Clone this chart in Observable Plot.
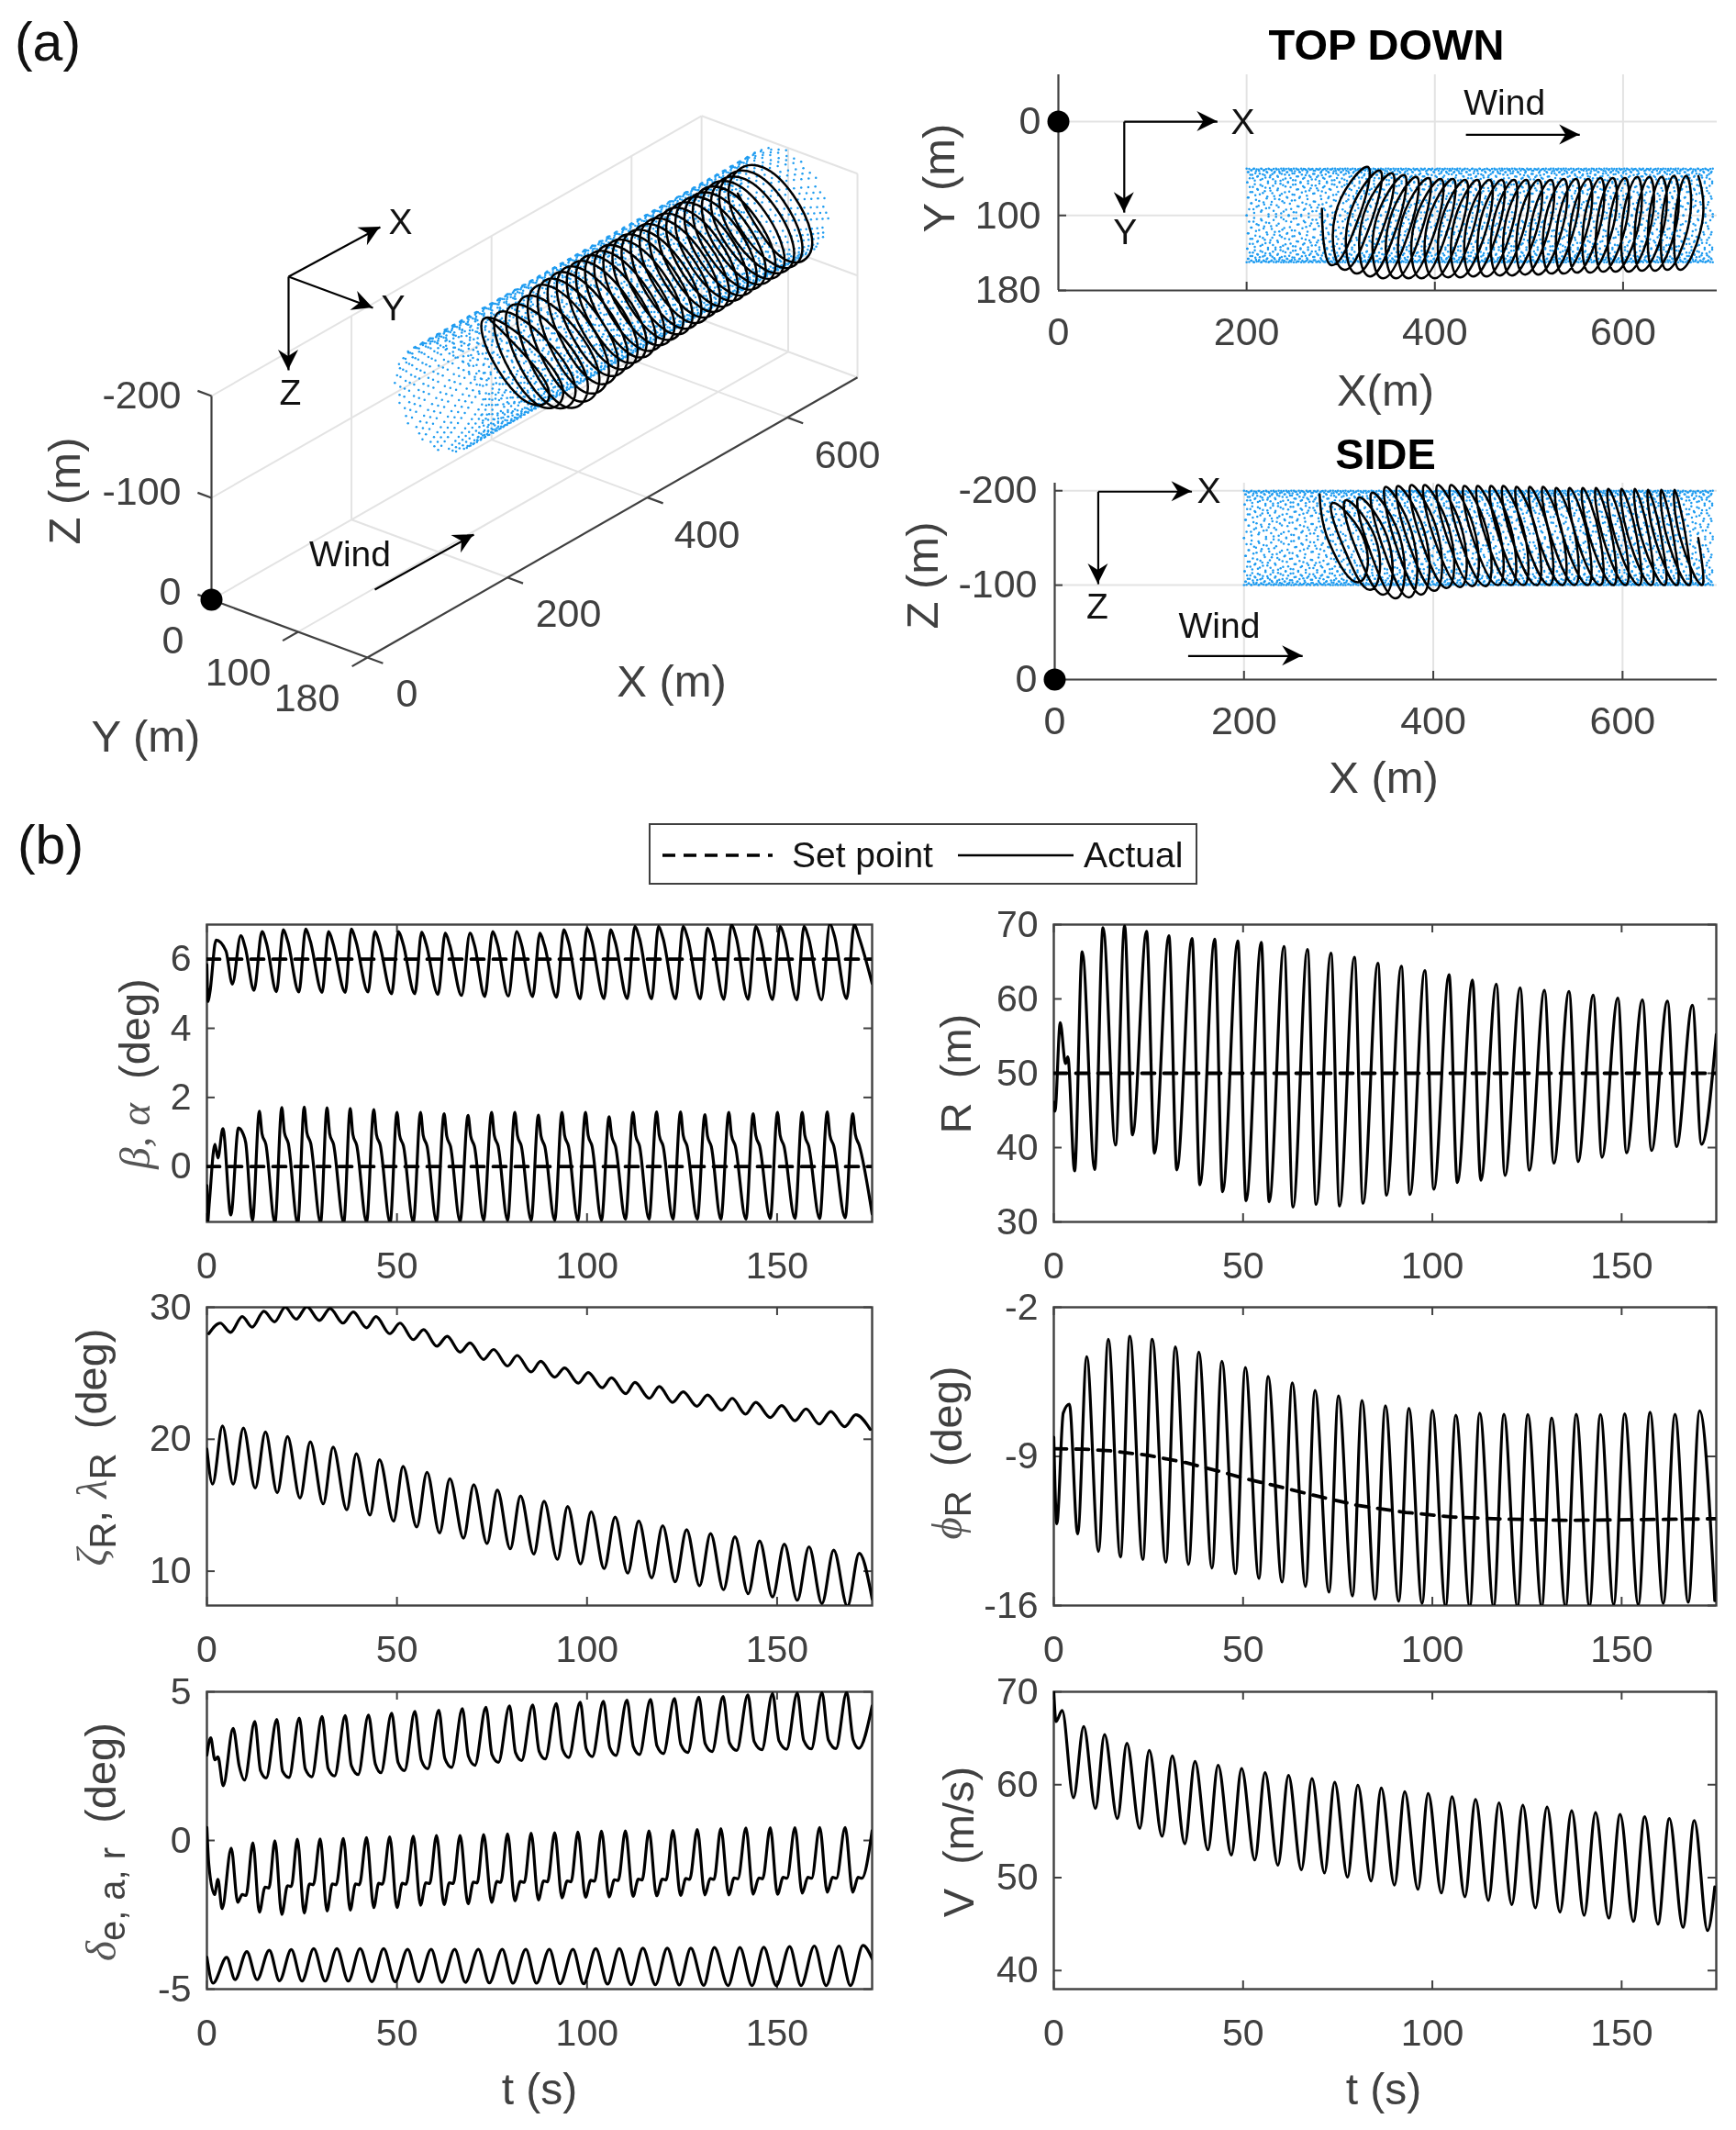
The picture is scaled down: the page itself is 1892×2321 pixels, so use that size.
<!DOCTYPE html>
<html><head><meta charset="utf-8">
<script src="https://cdn.jsdelivr.net/npm/d3@7"></script>
<script src="https://cdn.jsdelivr.net/npm/@observablehq/plot@0.6"></script>
<style>
html,body{margin:0;padding:0;background:#fff}
#page{position:relative;width:1892px;height:2321px;overflow:hidden;font-family:"Liberation Sans",Arial,sans-serif;color:#404040;filter:blur(0.5px)}
.lab{position:absolute;white-space:nowrap;transform:translate(-50%,-50%);line-height:1}
.lab.rot{transform:translate(-50%,-50%) rotate(-90deg)}
.lab i{font-family:"Liberation Serif",serif;font-style:italic;color:#555}
.lab sub{font-size:.85em;vertical-align:-0.25em;line-height:0}
</style></head><body><div id="page"></div>
<script>
// ---- time-series readings ----
const tTicks=[0,50,100,150];
const betaStartT=[0,0.3,0.8,2.4,5],betaStart=[5.84,4.77,5.05,6.55,6.24];
const betaPeakT=[3.9,8.9,14.5,20.1,26,32,38,44.2,50.4,56.5,62.7,69.2,75.2,81.5,87.6,93.9,100,106.2,112.6,118.8,125.3,131.7,138,144.4,150.8,157.1,163.9,170.3];
const betaPeak=[6.58,6.68,6.8,6.85,6.87,6.8,6.87,6.8,6.8,6.78,6.75,6.75,6.8,6.8,6.75,6.85,6.9,6.85,6.95,6.95,6.95,6.9,7.0,6.95,6.95,6.95,7.02,7.0];
const betaTroughT=[6.7,12.4,18.3,24.2,30.3,36.4,42.4,48.6,54.7,60.8,67,73.1,79.3,85.7,92,98.2,104.5,110.6,117,123.3,129.8,136,142.4,148.8,155.2,161.7,168.3,175];
const betaTrough=[5.28,5.1,5.06,5.05,5.04,5.04,5.05,5,5,4.98,4.95,4.92,4.93,4.92,4.9,4.85,4.86,4.86,4.85,4.85,4.85,4.84,4.84,4.83,4.82,4.82,4.86,5.3];
const betaKneeT=[10.1,15.7,21.3,27.2,33.2,39.2,45.4,51.6,57.7,63.9,70.4,76.4,82.7,88.8,95.1,101.2,107.4,113.8,120,126.5,132.9,139.2,145.6,152,158.3,165.1,171.5];
const betaKnee=[6.33,6.45,6.5,6.52,6.45,6.52,6.45,6.45,6.43,6.4,6.4,6.45,6.45,6.4,6.5,6.55,6.5,6.6,6.6,6.6,6.55,6.65,6.6,6.6,6.6,6.67,6.65];

const alphaStartT=[0,0.2,0.6,2.1,2.9,4.2,9.5],alphaStart=[-0.55,-1.6,-1.1,0.65,0.25,1.1,0.95];
const alphaPeakT=[8.3,13.8,19.7,25.6,31.6,37.7,43.9,50,56.2,62.4,68.7,74.9,81,87.2,93.4,99.6,105.8,112.1,118.3,124.6,131,137.3,143.7,150.1,156.6,163.2,169.9];
const alphaPeak=[1.12,1.6,1.71,1.72,1.7,1.68,1.65,1.57,1.57,1.53,1.48,1.57,1.57,1.49,1.57,1.57,1.44,1.57,1.58,1.58,1.5,1.57,1.53,1.57,1.57,1.58,1.53];
const alphaDropT=[14.5,20.4,26.3,32.3,38.4,44.6,50.7,56.9,63.1,69.4,75.6,81.7,87.9,94.1,100.3,106.5,112.8,119,125.3,131.7,138,144.4,150.8,157.3,163.9,170.6];
const alphaDrop=[0.95,0.98,0.98,0.95,0.93,0.93,0.9,0.9,0.88,0.88,0.9,0.9,0.88,0.9,0.9,0.88,0.9,0.9,0.9,0.88,0.9,0.9,0.9,0.9,0.9,0.92];
const alphaKneeT=[10.2,15.5,21.4,27.3,33.3,39.4,45.6,51.7,57.9,64.1,70.4,76.6,82.7,88.9,95.1,101.3,107.5,113.8,120,126.3,132.7,139,145.4,151.8,158.3,164.9,171.6];
const alphaKnee=[0.7,0.65,0.68,0.68,0.65,0.62,0.62,0.6,0.6,0.58,0.58,0.6,0.6,0.58,0.6,0.6,0.58,0.6,0.6,0.6,0.58,0.6,0.6,0.6,0.6,0.6,0.62];
const alphaTroughT=[6.3,12,17.9,23.9,29.9,36,42,48.2,54.3,60.4,66.6,72.8,79.1,85.3,91.5,97.6,103.8,110.1,116.3,122.6,129,135.2,141.8,148.2,154.7,161.2,167.9,175];
const alphaTrough=[-1.4,-1.55,-1.62,-1.65,-1.62,-1.62,-1.6,-1.62,-1.6,-1.58,-1.58,-1.55,-1.55,-1.55,-1.55,-1.55,-1.55,-1.52,-1.52,-1.52,-1.52,-1.52,-1.52,-1.5,-1.5,-1.5,-1.48,-1.37];

const rBumpT=[0,0.3,1.7,3.1,3.7],rBump=[46.1,44.9,56.8,51.3,52.2];
const rPeakT=[7.5,13,18.7,24.5,30.4,36.5,42.5,48.6,54.8,60.8,67,73.2,79.4,85.6,91.8,98,104.4,110.6,116.9,123.2,129.6,136.1,142.5,149,155.5,162.1,168.7,175];
const rPeak=[66.35,69.6,69.8,69.1,68.5,68.15,68.05,67.8,67.6,67.05,66.65,66.15,65.6,64.8,64.4,63.8,63.25,62.55,62,61.5,61.15,61,60.5,60.1,59.85,59.7,59.15,55.2];
const rTroughT=[5.5,10.8,16.3,20.8,26.6,32.5,38.6,44.6,50.8,56.9,63.2,69.3,75.5,81.7,87.9,94.1,100.4,106.6,112.8,119.2,125.6,132.1,138.5,144.8,151.3,157.9,164.5,171.1];
const rTrough=[36.85,37.05,40.35,41.7,39.25,37,35,34.05,32.85,32.7,32,32.35,32.15,32.5,33.6,33.7,34.4,35.3,35.6,36.25,36.95,37.9,38.1,38.7,39.3,39.6,40.15,40.45];

const lamPeakT=[3.5,9.3,15,20.6,26.3,32.4,38.5,44.5,50.8,57,63.2,69.2,75.4,81.6,87.8,94.1,100.3,106.4,112.6,119,125.3,131.7,138.2,144.4,151.2,157.6,164.1,170.7];
const lamPeak=[28.8,29.3,29.7,30,30.05,29.9,29.65,29.3,28.8,28.3,27.8,27.3,26.8,26.35,25.9,25.4,25.05,24.65,24.3,24,23.6,23.35,23.1,22.8,22.55,22.3,22.1,21.85];
const lamTroughT=[0.5,6.2,11.9,17.8,23.5,29.6,35.8,42,48.1,54.3,60.5,66.6,72.8,79.1,85.3,91.5,97.7,104,110.2,116.4,122.5,128.9,135.4,141.7,148.2,154.7,161.1,167.8,174.5];
const lamTrough=[28,28.1,28.5,28.9,29.1,29,28.8,28.45,28,27.55,27.05,26.6,26.05,25.55,25.1,24.7,24.25,23.9,23.45,23.1,22.8,22.5,22.2,21.9,21.65,21.4,21.15,20.95,20.75];
const zetaPeakT=[0,4.1,9.6,15.4,21.2,27.2,33.2,39.3,45.4,51.6,57.9,63.9,70.2,76.4,82.5,88.7,94.9,101.1,107.4,113.6,119.9,126.2,132.5,138.9,145.4,151.9,158.4,164.9,171.6];
const zetaPeak=[19.25,21,20.85,20.55,20.2,19.8,19.4,18.9,18.45,17.95,17.5,17,16.55,16.15,15.7,15.3,14.9,14.5,14.1,13.8,13.45,13.15,12.85,12.6,12.3,12.05,11.85,11.6,11.35];
const zetaTroughT=[1.5,6.9,12.7,18.5,24.5,30.6,36.8,42.9,49.1,55.2,61.2,67.5,73.7,79.8,86,92.2,98.3,104.5,110.7,117,123.2,129.6,135.9,142.4,148.8,155.3,161.8,168.5,175];
const zetaTrough=[16.6,16.6,16.3,15.95,15.55,15.1,14.65,14.25,13.8,13.35,12.9,12.5,12.1,11.7,11.3,10.9,10.55,10.2,9.85,9.5,9.2,8.9,8.6,8.3,8.05,7.8,7.55,7.35,7.9];

const phiSetT=[0,8,15,25,35,43.7,50.7,57.7,69,80.3,93,105.6,118.3,135,170,175];
const phiSet=[-8.64,-8.66,-8.74,-8.95,-9.3,-9.7,-10.05,-10.34,-10.84,-11.3,-11.63,-11.85,-11.94,-12,-11.94,-11.92];
const phiPeakT=[2.5,4.1,8.7,14.4,20.1,26,32.1,38.3,44.4,50.6,56.6,63,69,75.2,81.4,87.6,93.8,100,106.2,112.5,118.9,125.2,131.5,138,144.4,150.8,157.5,164.1,170.6];
const phiPeak=[-6.96,-6.55,-4.32,-3.5,-3.36,-3.5,-3.86,-4.1,-4.53,-4.83,-5.25,-5.55,-5.9,-6.16,-6.38,-6.62,-6.74,-6.84,-7.07,-6.97,-7.02,-7.03,-7.19,-7.02,-7.03,-7,-6.93,-7.02,-6.86];
const phiTroughT=[0,0.8,6.3,11.8,17.6,23.5,29.6,35.6,41.8,48,54.2,60.3,66.5,72.7,78.9,84.9,91.1,97.3,103.5,109.9,116.2,122.5,128.9,135.2,141.5,147.9,154.4,161,167.6,174.6];
const phiTrough=[-8.1,-12.16,-12.64,-13.46,-13.72,-13.84,-13.97,-14.07,-14.24,-14.5,-14.73,-14.9,-15.1,-15.37,-15.55,-15.7,-15.8,-15.9,-16.03,-16.05,-16.05,-16.05,-16.05,-16.05,-16.03,-15.95,-15.95,-15.9,-15.85,-15.77];

const elevStartT=[0,1,2.1,2.9],elevStart=[2.87,3.45,2.71,2.81];
const elevPeakT=[6.9,12.6,18.4,24.3,30.3,36.4,42.5,48.6,54.7,61,67.2,73.4,79.6,85.7,91.9,98.2,104.3,110.5,116.7,123,129.4,135.8,142.3,148.8,155.3,161.8,168.3,175];
const elevPeak=[3.77,4,4.07,4.12,4.17,4.2,4.22,4.28,4.34,4.38,4.43,4.48,4.53,4.56,4.6,4.65,4.68,4.72,4.74,4.77,4.82,4.84,4.9,4.94,4.96,4.97,4.98,4.53];
const elevKneeT=[8.5,14.1,19.9,25.9,31.9,38,44.3,50.3,56.4,62.6,68.8,75,81.2,87.4,93.6,99.8,106,112.2,118.4,124.7,131.1,137.5,144,150.5,157,163.5,170];
const elevKnee=[2.5,2.35,2.33,2.4,2.42,2.52,2.58,2.62,2.71,2.76,2.83,2.88,2.95,3,3.05,3.08,3.12,3.15,3.18,3.22,3.25,3.28,3.32,3.35,3.37,3.38,3.39];
const elevTroughT=[4.3,9.9,15.6,21.6,27.6,33.6,39.8,45.8,52,58.1,64.4,70.5,76.7,82.8,89,95.2,101.4,107.6,113.8,120.1,126.5,132.9,139.4,146,152.5,159,165.5,171.5];
const elevTrough=[1.84,2.03,2.1,2.12,2.14,2.17,2.22,2.28,2.35,2.41,2.46,2.53,2.63,2.69,2.74,2.79,2.82,2.86,2.89,2.92,2.96,2.99,3.03,3.05,3.07,3.08,3.09,3.1];

const ailStartT=[0,0.5,2,2.9,4,8.1],ailStart=[0.44,-0.8,-1.82,-1.31,-2.29,-2.08];
const ailPeakT=[6.4,12.1,17.9,23.8,29.8,35.9,42,48.1,54.3,60.4,66.6,72.8,79.1,85.3,91.5,97.6,103.8,110.1,116.3,122.6,129,135.2,141.8,148.2,154.7,161.2,167.9,175];
const ailPeak=[-0.26,-0.08,-0.01,0.04,0.05,0.07,0.1,0.12,0.14,0.17,0.17,0.2,0.22,0.24,0.26,0.28,0.31,0.32,0.32,0.34,0.37,0.4,0.42,0.43,0.43,0.44,0.44,0.33];
const ailTroughT=[13.8,19.7,25.6,31.6,37.7,43.9,50,56.2,62.4,68.7,74.9,81,87.2,93.4,99.6,105.8,112.1,118.3,124.6,131,137.3,143.7,150.1,156.6,163.2,169.9];
const ailTrough=[-2.41,-2.49,-2.44,-2.37,-2.34,-2.26,-2.26,-2.18,-2.16,-2.13,-2.08,-2.03,-2,-1.93,-1.91,-1.9,-1.88,-1.86,-1.85,-1.83,-1.83,-1.81,-1.81,-1.77,-1.74,-1.74];
const ailBumpT=[9.3,15.3,21.2,27,33,39.1,45.2,51.4,57.6,63.8,70.1,76.3,82.5,88.6,94.8,101,107.2,113.5,119.8,126,132.4,138.7,145.2,151.6,158.1,164.6,171.3];
const ailBump=[-1.82,-1.57,-1.52,-1.46,-1.46,-1.46,-1.44,-1.44,-1.42,-1.42,-1.4,-1.38,-1.38,-1.36,-1.36,-1.34,-1.32,-1.3,-1.3,-1.28,-1.28,-1.26,-1.26,-1.24,-1.24,-1.24,-1.24];
const ailFlatT=[10.3,16.3,22.2,28,34,40.1,46.2,52.4,58.6,64.8,71.1,77.3,83.5,89.6,95.8,102,108.2,114.5,120.8,127,133.4,139.7,146.2,152.6,159.1,165.6,172.3];
const ailFlat=[-1.85,-1.6,-1.55,-1.49,-1.49,-1.49,-1.47,-1.47,-1.45,-1.45,-1.43,-1.41,-1.41,-1.39,-1.39,-1.37,-1.35,-1.33,-1.33,-1.31,-1.31,-1.29,-1.29,-1.27,-1.27,-1.27,-1.27];

const rudPeakT=[0,5.2,10.5,16.4,22.2,28.1,34.2,40.3,46.5,52.8,59,65.2,71.4,77.7,83.9,90.1,96.3,102.3,108.5,114.7,121.1,127.3,133.5,140.2,146.5,153.3,159.8,166.3,172.6];
const rudPeak=[-3.93,-3.93,-3.74,-3.69,-3.67,-3.64,-3.64,-3.64,-3.64,-3.66,-3.66,-3.66,-3.66,-3.66,-3.66,-3.66,-3.66,-3.64,-3.64,-3.62,-3.62,-3.62,-3.6,-3.6,-3.59,-3.57,-3.55,-3.55,-3.53];
const rudTroughT=[1.6,7.4,13.2,19.1,25,31.1,37.2,43.4,49.5,55.7,61.8,68,74.3,80.5,86.7,92.9,99.1,105.4,111.6,118,124.3,130.7,137.1,143.4,149.8,156.3,162.9,169.3,175];
const rudTrough=[-4.8,-4.68,-4.68,-4.72,-4.73,-4.73,-4.73,-4.75,-4.75,-4.75,-4.77,-4.77,-4.79,-4.8,-4.8,-4.82,-4.82,-4.83,-4.85,-4.85,-4.86,-4.87,-4.88,-4.88,-4.88,-4.88,-4.88,-4.88,-3.98];

const vPeakT=[0,2.2,7.9,13.4,19.3,25.2,31.3,37.3,43.4,49.6,55.8,62,68.2,74.2,80.3,86.5,92.7,98.9,105.2,111.4,117.6,123.9,130.3,136.8,143.1,149.6,156.1,162.6,169.2,174.6];
const vPeak=[70,68,66.27,65.4,64.45,63.7,63.1,62.5,62.1,61.75,61.3,61,60.65,60.25,59.95,59.65,59.25,59.05,58.7,58.4,58.05,57.8,57.6,57.2,57,56.8,56.55,56.35,56.15,49];
const vTroughT=[0.6,5.2,11,16.8,22.7,28.6,34.6,40.7,46.9,53.1,59.2,65.4,71.5,77.6,83.8,90,96.2,102.4,108.6,114.8,121,127.2,133.7,140.1,146.6,153.1,159.6,166.2,172.7];
const vTrough=[66.8,58.6,57.45,56.35,55.3,54.45,53.65,53,52.45,51.9,51.35,50.85,50.5,50.05,49.65,49.2,48.75,48.35,47.95,47.55,47.1,46.75,46.3,45.95,45.65,45.3,45,44.65,44.3];

// ---- flight path: one entry per turn ----
const xAtYHigh=[290,304,317,331,345,359,372,386,400,414,427,441,455,469,482,496,510,524,537,551,565,579,592,606,620,634,647,661];
const xAtZDeep=[320,333,347,360,374,387,401,414,428,441,455,468,482,495,509,522,536,549,563,576,590,603,617,630,644,657,670,684];
const xAtYLow=[328,341,354,367,380,393,406,419,432,445,458,471,484,497,510,523,537,550,563,576,589,602,615,628,641,654,667,680];
const xAtZTop=[294,308,322,336,350,363,377,391,405,419,433,447,461,474,488,502,516,530,544,558,572,585,599,613,627,641,655];
const yLow=[48,52,55,57,59,60,61,61,62,62,62,62,62,62,62,62,61,61,61,60,60,60,59,59,59,58,58,58];
const yHigh=[153,158,162,165,167,167,167,167,167,166,166,165,165,164,164,163,163,162,162,161,161,160,160,160,159,159,158,158];
const zDeep=[-103,-95,-90,-86,-87,-90,-94,-97,-98,-99,-99,-100,-100,-100,-100,-100,-100,-100,-100,-100,-100,-100,-100,-100,-100,-100,-100,-100];
const zTop=[-187,-190,-193,-198,-204,-205,-206,-206,-206,-206,-205,-205,-205,-205,-204,-204,-204,-203,-203,-203,-203,-202,-202,-202,-201,-201,-201];
const yCentre=[100,105,108,111,113,113,114,114,114,114,114,113,113,113,113,112,112,111,111,110,110,110,109,109,109,108,108,108];
const zCentre=[-145,-143,-142,-142,-145,-147,-150,-151,-152,-152,-152,-152,-152,-152,-152,-152,-152,-152,-152,-151,-151,-151,-151,-151,-150,-150,-150,-150];
const pathStart={X:280,Y:93,Z:-196};

// ---- reference surface mesh: staggered lattice on the cylinder ----
const meshStations=[200,208,216,224,232,240,248,256,264,272,280,288,296,304,312,320,328,336,344,352,360,368,376,384,392,400,408,416,424,432,440,448,456,464,472,480,488,496,504,512,520,528,536,544,552,560,568,576,584,592,600,608,616,624,632,640,648,656,664,672,680,688];
const meshAngles=[0,7.5,15,22.5,30,37.5,45,52.5,60,67.5,75,82.5,90,97.5,105,112.5,120,127.5,135,142.5,150,157.5,165,172.5,180,187.5,195,202.5,210,217.5,225,232.5,240,247.5,255,262.5,270,277.5,285,292.5,300,307.5,315,322.5,330,337.5,345,352.5];
const meshStagger=[0,2.7,5.3,1.3,4,6.7,0.7,3.3,6,2,4.7,7.3];
const meshTwistPerStation=3.1;
const meshCentreY=100,meshCentreZ=-150,meshRadius=50;

const ink="#404040",grid="#e3e3e3",blue="#1f9cf0";
const page=document.getElementById("page");

function merge(...pairs){const out=[];for(const [ts,vs] of pairs)ts.forEach((t,i)=>out.push({t,v:vs[i]}));return out.sort((a,b)=>a.t-b.t);}
function lab(html,cx,cy,size,opt={}){const d=document.createElement("div");d.className="lab"+(opt.rot?" rot":"");d.innerHTML=html;d.style.left=cx+"px";d.style.top=cy+"px";d.style.fontSize=size+"px";if(opt.color)d.style.color=opt.color;if(opt.bold)d.style.fontWeight="bold";page.appendChild(d);}
function place(svg){page.appendChild(svg);}
const baseStyle=(l,t)=>({position:"absolute",left:l+"px",top:t+"px",background:"transparent",overflow:"visible",fontFamily:"'Liberation Sans',Arial,sans-serif"});

function arrowMarks(list,color="#000"){
  return [
    Plot.link(list,{x1:"x1",y1:"y1",x2:"x2",y2:"y2",stroke:color,strokeWidth:2.2}),
    (index,{x,y})=>{
      const g=d3.create("svg:g");
      for(const a of list){
        const ax=x(a.x1),ay=y(a.y1),bx=x(a.x2),by=y(a.y2),L=Math.hypot(bx-ax,by-ay),ux=(bx-ax)/L,uy=(by-ay)/L,nx=-uy,ny=ux;
        const pt=(f,s)=>[bx-ux*f+nx*s,by-uy*f+ny*s].join(",");
        g.append("path").attr("d",`M${pt(0,0)}L${pt(22,11)}L${pt(15,0)}L${pt(22,-11)}Z`).attr("fill",color);
      }
      return g.node();
    }
  ];
}

// ---------- time panels ----------
function timePanel({left,top,w,h,dom,yTicks,lines,sets=[]}){
  const mL=120,mR=15,mT=10,mB=70;
  const p=Plot.plot({width:w+mL+mR,height:h+mT+mB,marginLeft:mL,marginRight:mR,marginTop:mT,marginBottom:mB,
    style:baseStyle(left-mL,top-mT),
    x:{domain:[0,175],axis:null},y:{domain:dom,axis:null},
    marks:[
      Plot.frame({stroke:ink,strokeWidth:2.4}),
      Plot.ruleX(tTicks,{insetTop:h-9,stroke:ink,strokeWidth:2}),
      Plot.ruleX(tTicks,{insetBottom:h-9,stroke:ink,strokeWidth:2}),
      Plot.ruleY(yTicks,{insetRight:w-9,stroke:ink,strokeWidth:2}),
      Plot.ruleY(yTicks,{insetLeft:w-9,stroke:ink,strokeWidth:2}),
      Plot.axisX({ticks:tTicks,tickSize:0,tickPadding:32,fontSize:41,color:ink,label:null,tickFormat:String,anchor:"bottom"}),
      Plot.axisY({ticks:yTicks,tickSize:0,tickPadding:17,fontSize:41,color:ink,label:null,tickFormat:String,anchor:"left"}),
      ...sets.map(s=>Plot.line(s,{x:"t",y:"v",stroke:"#000",strokeWidth:3.8,strokeDasharray:"14 10",clip:true})),
      ...lines.map(s=>Plot.line(s,{x:"t",y:"v",stroke:"#000",strokeWidth:3.2,curve:"monotone-x",clip:true}))
    ]});
  place(p);
}
const Lx=225,Rx=1148,colW=725,colW2=722;
const rows=[[1007,324],[1424,325],[1843,324]];
const constSet=v=>[{t:0,v},{t:175,v}];

timePanel({left:Lx,top:rows[0][0],w:colW,h:rows[0][1],dom:[-1.6,7],yTicks:[0,2,4,6],sets:[constSet(6),constSet(0)],
  lines:[merge([betaStartT,betaStart],[betaPeakT.slice(1),betaPeak.slice(1)],[betaTroughT,betaTrough],[betaKneeT,betaKnee]),
         merge([alphaStartT,alphaStart],[alphaPeakT,alphaPeak],[alphaDropT,alphaDrop],[alphaKneeT,alphaKnee],[alphaTroughT,alphaTrough])]});
timePanel({left:Rx,top:rows[0][0],w:colW2,h:rows[0][1],dom:[30,70],yTicks:[30,40,50,60,70],sets:[constSet(50)],
  lines:[merge([rBumpT,rBump],[rPeakT,rPeak],[rTroughT,rTrough])]});
timePanel({left:Lx,top:rows[1][0],w:colW,h:rows[1][1],dom:[7.4,30],yTicks:[10,20,30],
  lines:[merge([lamPeakT,lamPeak],[lamTroughT,lamTrough]),merge([zetaPeakT,zetaPeak],[zetaTroughT,zetaTrough])]});
timePanel({left:Rx,top:rows[1][0],w:colW2,h:rows[1][1],dom:[-16,-2],yTicks:[-16,-9,-2],sets:[merge([phiSetT,phiSet])],
  lines:[merge([phiPeakT,phiPeak],[phiTroughT,phiTrough])]});
timePanel({left:Lx,top:rows[2][0],w:colW,h:rows[2][1],dom:[-5,5],yTicks:[-5,0,5],
  lines:[merge([elevStartT,elevStart],[elevPeakT,elevPeak],[elevKneeT,elevKnee],[elevTroughT,elevTrough]),
         merge([ailStartT,ailStart],[ailPeakT,ailPeak],[ailTroughT,ailTrough],[ailBumpT,ailBump],[ailFlatT,ailFlat]),
         merge([rudPeakT,rudPeak],[rudTroughT,rudTrough])]});
timePanel({left:Rx,top:rows[2][0],w:colW2,h:rows[2][1],dom:[38,70],yTicks:[40,50,60,70],
  lines:[merge([vPeakT,vPeak],[vTroughT,vTrough])]});

lab("<i>β, α</i>&nbsp; (deg)",147,1170,47,{rot:true});
lab("R&nbsp; (m)",1041,1170,47,{rot:true});
lab("<i>ζ</i><sub>R</sub>, <i>λ</i><sub>R</sub>&nbsp; (deg)",100,1577,47,{rot:true});
lab("<i>ϕ</i><sub>R</sub>&nbsp; (deg)",1032,1583,47,{rot:true});
lab("<i>δ</i><sub>e, a, r</sub>&nbsp; (deg)",110,2007,47,{rot:true});
lab("V&nbsp; (m/s)",1044,2007,47,{rot:true});
lab("t (s)",588,2277,48);
lab("t (s)",1508,2277,48);
lab("(a)",52,46,59,{color:"#111"});
lab("(b)",55,921,59,{color:"#111"});

// legend
const leg=document.createElement("div");
leg.style.cssText="position:absolute;left:707px;top:897px;width:594px;height:63px;border:2px solid #404040;box-sizing:content-box;color:#111;font-size:39px";
leg.innerHTML=`<svg width="594" height="63" style="position:absolute;left:0;top:0"><line x1="13" x2="133" y1="33" y2="33" stroke="#000" stroke-width="3.4" stroke-dasharray="14 9"/><line x1="335" x2="461" y1="33" y2="33" stroke="#000" stroke-width="2.6"/></svg><span style="position:absolute;left:154px;top:11px">Set point</span><span style="position:absolute;left:472px;top:11px">Actual</span>`;
page.appendChild(leg);

// ---------- flight path table ----------
const pathRows=[pathStart];
xAtYHigh.forEach((_,k)=>{
  pathRows.push({X:xAtYHigh[k],Y:yHigh[k],Z:zCentre[k]});
  pathRows.push({X:xAtZDeep[k],Y:yCentre[k],Z:zDeep[k]});
  pathRows.push({X:xAtYLow[k],Y:yLow[k],Z:zCentre[k]});
  if(k<xAtZTop.length)pathRows.push({X:xAtZTop[k],Y:yCentre[k],Z:zTop[k]});
});
const rad=Math.PI/180;
const meshRows=[];
meshStations.forEach((X,i)=>{meshAngles.forEach((a,j)=>{const th=(a+i*meshTwistPerStation)*rad;meshRows.push({X:X+meshStagger[j%meshStagger.length],Y:meshCentreY+meshRadius*Math.cos(th),Z:meshCentreZ+meshRadius*Math.sin(th)});});});

// ---------- flat views ----------
function flatView({left,right,top,bottom,yKey,yDom,yTicks,gridY,xLabelY,arrows,texts,lineY}){
  const w=right-left,h=bottom-top,mL=120,mR=15,mT=10,mB=70;
  const p=Plot.plot({width:w+mL+mR,height:h+mT+mB,marginLeft:mL,marginRight:mR,marginTop:mT,marginBottom:mB,
    style:baseStyle(left-mL,top-mT),
    x:{domain:[0,700],axis:null},y:{domain:yDom,reverse:true,axis:null},
    marks:[
      Plot.ruleX([200,400,600],{stroke:grid,strokeWidth:2}),
      Plot.ruleY(gridY,{stroke:grid,strokeWidth:2}),
      Plot.dot(meshRows,{x:"X",y:yKey,r:1.25,fill:blue,stroke:null}),
      Plot.line(pathRows,{x:"X",y:yKey,stroke:"#000",strokeWidth:2.5,curve:"cardinal",tension:-0.5}),
      Plot.ruleX([0],{stroke:ink,strokeWidth:2.2}),
      Plot.ruleY([lineY],{stroke:ink,strokeWidth:2.2}),
      Plot.ruleX([200,400,600],{insetTop:h-9,stroke:ink,strokeWidth:2}),
      Plot.ruleY(yTicks,{insetRight:w-9,stroke:ink,strokeWidth:2}),
      Plot.axisX({ticks:[0,200,400,600],tickSize:0,tickPadding:xLabelY,fontSize:43,color:ink,label:null,tickFormat:String,anchor:"bottom"}),
      Plot.axisY({ticks:yTicks,tickSize:0,tickPadding:19,fontSize:43,color:ink,label:null,tickFormat:String,anchor:"left"}),
      Plot.dot([{x:0,y:0}],{x:"x",y:"y",r:12,fill:"#000",stroke:null}),
      ...arrowMarks(arrows),
      Plot.text(texts,{x:"x",y:"y",text:"s",fontSize:"size",fill:"#111"})
    ]});
  place(p);
}
flatView({left:1153,right:1871,top:81,bottom:316,yKey:"Y",yDom:[-50,180],yTicks:[0,100,180],gridY:[0,100],lineY:180,xLabelY:29,
  arrows:[{x1:70,y1:0,x2:169,y2:0},{x1:70,y1:0,x2:70,y2:97},{x1:433,y1:14,x2:554,y2:14}],
  texts:[{x:196,y:1,s:"X",size:39},{x:71,y:118,s:"Y",size:39},{x:474,y:-20,s:"Wind",size:39}]});
flatView({left:1149,right:1871,top:526,bottom:740,yKey:"Z",yDom:[-208,0],yTicks:[-200,-100,0],gridY:[-200,-100,0],lineY:0,xLabelY:29,
  arrows:[{x1:46,y1:-199,x2:145,y2:-199},{x1:46,y1:-199,x2:46,y2:-101},{x1:141,y1:-25,x2:262,y2:-25}],
  texts:[{x:163,y:-199,s:"X",size:39},{x:45,y:-77,s:"Z",size:39},{x:174,y:-56,s:"Wind",size:39}]});
lab("TOP DOWN",1511,48,47,{bold:true,color:"#000"});
lab("SIDE",1510,494,47,{bold:true,color:"#000"});
lab("X(m)",1510,425,49);
lab("X (m)",1508,847,49);
lab("Y (m)",1023,194,49,{rot:true});
lab("Z (m)",1005,627,49,{rot:true});

// ---------- 3-D view (oblique projection of the data) ----------
const proj={ox:230,oy:653,xx:0.763,xy:-0.436,yx:0.944,yy:0.35,zy:1.11};
const sx=(X,Y)=>proj.ox+proj.xx*X+proj.yx*Y;
const sy=(X,Y,Z)=>proj.oy+proj.xy*X+proj.yy*Y+proj.zy*Z;
const seg=(a,b)=>({x1:sx(a[0],a[1]),y1:sy(...a),x2:sx(b[0],b[1]),y2:sy(...b)});
const gridSegs=[];
for(const X of [200,400,600]){gridSegs.push(seg([X,0,0],[X,180,0]),seg([X,0,0],[X,0,-200]));}
gridSegs.push(seg([0,100,0],[700,100,0]),seg([700,100,0],[700,100,-200]));
for(const Z of [-100,-200]){gridSegs.push(seg([0,0,Z],[700,0,Z]),seg([700,0,Z],[700,180,Z]));}
gridSegs.push(seg([0,0,0],[700,0,0]),seg([700,0,0],[700,180,0]),seg([700,0,0],[700,0,-200]),seg([700,180,0],[700,180,-200]));
const axisSegs=[seg([0,0,0],[0,0,-200]),seg([0,0,0],[0,180,0]),seg([0,180,0],[700,180,0]),
  seg([200,180,0],[200,198,0]),seg([400,180,0],[400,198,0]),seg([600,180,0],[600,198,0]),seg([0,180,0],[0,198,0]),
  seg([-22,100,0],[0,100,0]),seg([-22,180,0],[0,180,0]),seg([0,0,-200],[0,-16,-200]),seg([0,0,-100],[0,-16,-100]),seg([0,0,0],[0,-16,0])];
const scene3d=Plot.plot({width:1000,height:880,margin:0,style:baseStyle(0,0),
  x:{domain:[0,1000],range:[0,1000],axis:null},y:{domain:[0,880],range:[0,880],axis:null},
  marks:[
    Plot.link(gridSegs,{x1:"x1",y1:"y1",x2:"x2",y2:"y2",stroke:grid,strokeWidth:2}),
    Plot.dot(meshRows,{x:d=>sx(d.X,d.Y),y:d=>sy(d.X,d.Y,d.Z),r:1.25,fill:blue,stroke:null}),
    Plot.line(pathRows,{x:d=>sx(d.X,d.Y),y:d=>sy(d.X,d.Y,d.Z),stroke:"#000",strokeWidth:2.5,curve:"cardinal",tension:-0.5}),
    Plot.link(axisSegs,{x1:"x1",y1:"y1",x2:"x2",y2:"y2",stroke:ink,strokeWidth:2.2}),
    Plot.dot([{x:sx(0,0),y:sy(0,0,0)}],{x:"x",y:"y",r:12,fill:"#000",stroke:null}),
    ...arrowMarks([{x1:314,y1:301,x2:414,y2:247},{x1:314,y1:301,x2:406,y2:335},{x1:314,y1:301,x2:314,y2:403},{x1:408,y1:642,x2:516,y2:582}]),
    Plot.text([{x:436,y:242,s:"X"},{x:428,y:336,s:"Y"},{x:316,y:428,s:"Z"},{x:381,y:604,s:"Wind"}],{x:"x",y:"y",text:"s",fontSize:39,fill:"#111"}),
    Plot.text([{x:197,y:431,s:"-200"},{x:197,y:536,s:"-100"},{x:197,y:645,s:"0"}],{x:"x",y:"y",text:"s",fontSize:43,fill:ink,textAnchor:"end"}),
    Plot.text([{x:188,y:698,s:"0"},{x:259,y:733,s:"100"},{x:334,y:761,s:"180"},{x:443,y:756,s:"0"},{x:619,y:669,s:"200"},{x:770,y:583,s:"400"},{x:923,y:496,s:"600"}],{x:"x",y:"y",text:"s",fontSize:43,fill:ink})
  ]});
place(scene3d);
lab("Z (m)",70,535,49,{rot:true});
lab("Y (m)",159,802,49);
lab("X (m)",732,742,49);
</script></body></html>
